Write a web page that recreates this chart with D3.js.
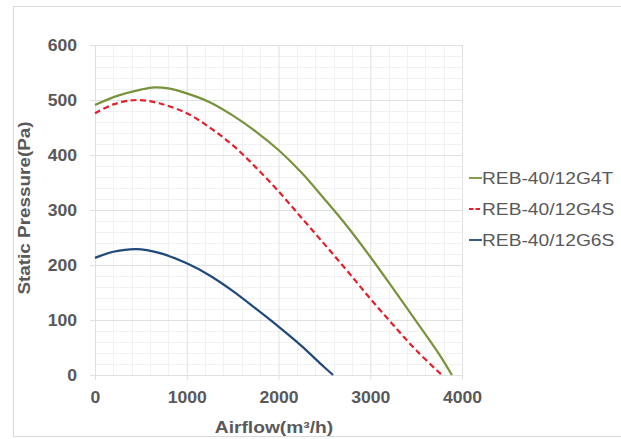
<!DOCTYPE html>
<html><head><meta charset="utf-8">
<script src="https://cdn.jsdelivr.net/npm/d3@7"></script>
<style>body{margin:0;background:#fff}svg{display:block}text{font-family:"Liberation Sans",Arial,sans-serif}</style>
</head><body><svg id="c" width="621" height="439"></svg>
<script>
const seriesNames = ["REB-40/12G4T", "REB-40/12G4S", "REB-40/12G6S"];
const seriesColors = ["#77933C", "#E3202C", "#1F497D"];
const g4tFlow = [0, 250, 500, 650, 800, 1000, 1250, 1500, 1750, 2000, 2250, 2500, 2750, 3000, 3250, 3500, 3750, 3890];
const g4tPres = [491, 508, 519, 523, 521, 512, 496, 472, 443, 409, 368, 320, 270, 215, 157, 98, 38, 0];
const g4sFlow = [0, 200, 450, 700, 1000, 1250, 1500, 1750, 2000, 2250, 2500, 2750, 3000, 3250, 3500, 3780];
const g4sPres = [476, 492, 500, 494, 476, 450, 418, 378, 334, 286, 238, 189, 139, 91, 45, 0];
const g6sFlow = [0, 200, 450, 700, 1000, 1250, 1500, 1750, 2000, 2250, 2500, 2595];
const g6sPres = [213, 224, 229, 222, 203, 181, 153, 121, 88, 53, 14, 0];
const xTicks = [0, 1000, 2000, 3000, 4000];
const yTicks = [0, 100, 200, 300, 400, 500, 600];
const xTitle = "Airflow(m³/h)";
const yTitle = "Static Pressure(Pa)";

const svg = d3.select("#c");
const L = 95, R = 462, T = 45, B = 375;
const x = d3.scaleLinear().domain([0, 4000]).range([L, R]);
const y = d3.scaleLinear().domain([0, 600]).range([B, T]);

svg.append("rect").attr("x", 13.5).attr("y", 6.5).attr("width", 620).attr("height", 430)
  .attr("fill", "#fff").attr("stroke", "#d9d9d9");

// minor grid
const gMinor = svg.append("g").attr("stroke", "#f1f1f1").attr("stroke-width", 1);
gMinor.selectAll(".mx").data(d3.range(200, 4000, 200).filter(v => v % 1000)).join("line")
  .attr("x1", d => Math.round(x(d)) + 0.5).attr("x2", d => Math.round(x(d)) + 0.5).attr("y1", T).attr("y2", B);
gMinor.selectAll(".my").data(d3.range(20, 600, 20).filter(v => v % 100)).join("line")
  .attr("y1", d => Math.round(y(d)) + 0.5).attr("y2", d => Math.round(y(d)) + 0.5).attr("x1", L).attr("x2", R);

const stretch = (sel, f) => sel.each(function(){ const w = this.getComputedTextLength(); d3.select(this).attr("textLength", w * f).attr("lengthAdjust", "spacingAndGlyphs"); });

const yAxis = svg.append("g").attr("transform", `translate(${L},0)`)
  .call(d3.axisLeft(y).tickValues(yTicks).tickSize(-(R - L)).tickFormat(d3.format("d")));
const xAxis = svg.append("g").attr("transform", `translate(0,${B})`)
  .call(d3.axisBottom(x).tickValues(xTicks).tickSize(-(B - T)).tickFormat(d3.format("d")));
[yAxis, xAxis].forEach(a => { a.select(".domain").remove(); a.selectAll(".tick line").attr("stroke", "#e0e0e0"); });
yAxis.selectAll(".tick").append("line").attr("x1", -5).attr("x2", 0).attr("stroke", "#e0e0e0");
xAxis.selectAll(".tick").append("line").attr("y1", 0).attr("y2", 5).attr("stroke", "#e0e0e0");
yAxis.selectAll(".tick text").attr("x", -18).attr("dy", "0.36em").attr("fill", "#595959")
  .attr("font-size", 16).attr("font-weight", "bold").call(stretch, 1.1);
xAxis.selectAll(".tick text").attr("y", 28).attr("dy", 0).attr("fill", "#595959")
  .attr("font-size", 16).attr("font-weight", "bold").call(stretch, 1.1);

svg.append("text").text(xTitle).attr("x", 274).attr("y", 433).attr("text-anchor", "middle")
  .attr("fill", "#595959").attr("font-size", 16).attr("font-weight", "bold").call(stretch, 1.2);
svg.append("text").text(yTitle).attr("transform", "translate(30,208) rotate(-90)").attr("text-anchor", "middle")
  .attr("fill", "#595959").attr("font-size", 16).attr("font-weight", "bold").call(stretch, 1.18);

const data = [
  g4tFlow.map((f, i) => [f, g4tPres[i]]),
  g4sFlow.map((f, i) => [f, g4sPres[i]]),
  g6sFlow.map((f, i) => [f, g6sPres[i]])
];
const line = d3.line().x(d => x(d[0])).y(d => y(d[1])).curve(d3.curveCatmullRom.alpha(0.5));
data.forEach((d, i) => {
  svg.append("path").attr("d", line(d)).attr("fill", "none").attr("stroke", seriesColors[i])
    .attr("stroke-width", 2.2).attr("stroke-dasharray", i === 1 ? "6,3.5" : null);
});

const rowsY = [178, 209, 240];
seriesNames.forEach((n, i) => {
  svg.append("line").attr("x1", 469).attr("x2", 482).attr("y1", rowsY[i]).attr("y2", rowsY[i])
    .attr("stroke", seriesColors[i]).attr("stroke-width", 1.8).attr("stroke-dasharray", i === 1 ? "4.5,2" : null);
  svg.append("text").text(n).attr("x", 482).attr("y", rowsY[i] + 6).attr("fill", "#595959")
    .attr("font-size", 16).call(stretch, 1.2);
});
</script></body></html>
